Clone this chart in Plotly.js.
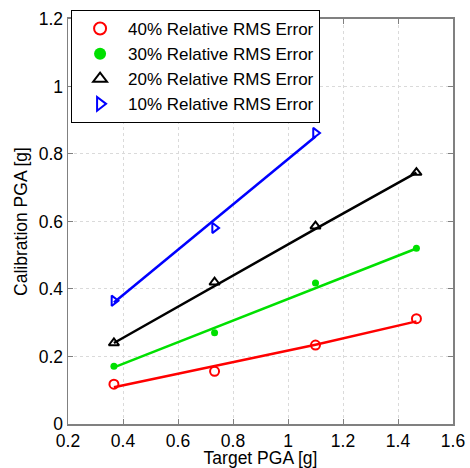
<!DOCTYPE html>
<html>
<head>
<meta charset="utf-8">
<script src="https://cdn.plot.ly/plotly-3.0.1.min.js"></script>
<style>html,body{margin:0;padding:0;background:#fff;}#chart{width:470px;height:468px;}</style>
</head>
<body>
<div id="chart"></div>
<script>
// Data
const targetPGA = [0.367, 0.733, 1.1, 1.467];
const targetPGA10 = [0.367, 0.733, 1.1];

const seriesNames = ["40% Relative RMS Error", "30% Relative RMS Error", "20% Relative RMS Error", "10% Relative RMS Error"];

const err40Points = [0.118, 0.156, 0.234, 0.312];
const err30Points = [0.171, 0.270, 0.418, 0.521];
const err20Points = [0.240, 0.420, 0.586, 0.745];
const err10Points = [0.365, 0.581, 0.862];

const err40Fit = [0.109, 0.171, 0.235, 0.304];
const err30Fit = [0.168, 0.285, 0.402, 0.520];
const err20Fit = [0.240, 0.410, 0.578, 0.745];
const err10Fit = [0.360, 0.605, 0.852];

const xTicks = [0.2, 0.4, 0.6, 0.8, 1, 1.2, 1.4, 1.6];
const yTicks = [0, 0.2, 0.4, 0.6, 0.8, 1, 1.2];

const colors = ["#ff0000", "#00e000", "#000000", "#0000ff"];
const fontFamily = 'Liberation Sans, Arial, sans-serif';

const fitTraces = [
  {x: targetPGA, y: err40Fit, c: colors[0]},
  {x: targetPGA, y: err30Fit, c: colors[1]},
  {x: targetPGA, y: err20Fit, c: colors[2]},
  {x: targetPGA10, y: err10Fit, c: colors[3]}
].map(d => ({x: d.x, y: d.y, mode: 'lines', type: 'scatter', showlegend: false,
  hoverinfo: 'skip', line: {color: d.c, width: 2.5}}));

const pointTraces = [
  {x: targetPGA, y: err40Points, sym: 'circle-open', size: 9, lw: 2},
  {x: targetPGA, y: err30Points, sym: 'circle', size: 7, lw: 0},
  {x: targetPGA, y: err20Points, sym: 'triangle-up-open', size: 9, lw: 2},
  {x: targetPGA10, y: err10Points, sym: 'triangle-right-open', size: 9, lw: 2}
].map((d, i) => ({x: d.x, y: d.y, mode: 'markers', type: 'scatter', name: seriesNames[i],
  marker: {symbol: d.sym, size: d.size, color: colors[i], line: {color: colors[i], width: d.lw}}}));

const axisCommon = {
  showline: true, linecolor: '#808080', linewidth: 1.5, mirror: 'ticks',
  ticks: 'inside', ticklen: 5, tickcolor: '#808080',
  showgrid: true, gridcolor: '#dadada', griddash: 'dot', gridwidth: 1,
  zeroline: false, tickfont: {family: fontFamily, size: 17.5, color: '#000'}
};
const titleFont = {family: fontFamily, size: 17.5, color: '#000'};

const layout = {
  width: 470, height: 468,
  margin: {l: 68, r: 17, t: 10, b: 44},
  paper_bgcolor: '#fff', plot_bgcolor: '#fff',
  showlegend: true,
  xaxis: Object.assign({}, axisCommon, {range: [0.2, 1.6], tickvals: xTicks, ticktext: xTicks.map(String),
    title: {text: 'Target PGA [g]', standoff: 4, font: titleFont}}),
  yaxis: Object.assign({}, axisCommon, {range: [0, 1.2], tickvals: yTicks, ticktext: yTicks.map(String),
    domain: [0, 0.9783],
    title: {text: 'Calibration PGA [g]', standoff: 6, font: titleFont}}),
  legend: {x: 0.008, y: 1, xanchor: 'left', yanchor: 'top',
    bgcolor: '#fff', bordercolor: '#000', borderwidth: 1,
    font: {family: fontFamily, size: 17, color: '#000'},
    itemwidth: 46, itemsizing: 'constant'}
};

Plotly.newPlot('chart', fitTraces.concat(pointTraces), layout, {displayModeBar: false, staticPlot: true});
</script>
</body>
</html>
